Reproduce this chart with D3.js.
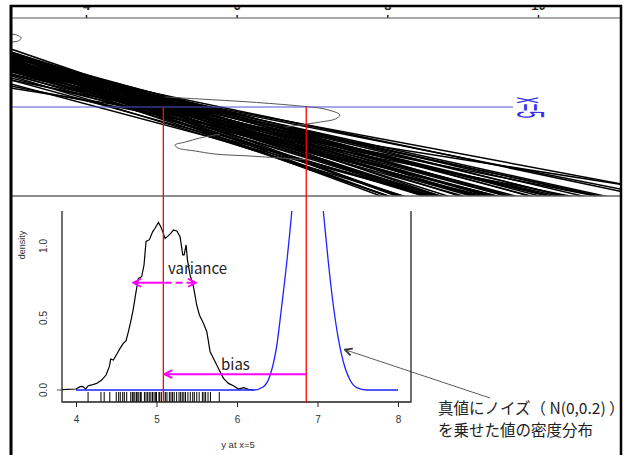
<!DOCTYPE html>
<html>
<head>
<meta charset="utf-8">
<script src="https://cdn.jsdelivr.net/npm/d3@7"></script>
<style>
body {margin: 0; background: #fff;}
svg {display: block;}
</style>
</head>
<body>
<svg width="625" height="455"></svg>
<script>
var width = 625;
var height = 455;

// fitted value of every regression line at x=5 (also drawn as the rug)
var fitAtFive = [4.15, 4.31, 4.35, 4.42, 4.50, 4.53, 4.55, 4.58, 4.60, 4.63, 4.68, 4.70, 4.71, 4.73,
	4.75, 4.76, 4.78, 4.80, 4.81, 4.85, 4.87, 4.89, 4.91, 4.93, 4.95, 4.97, 4.99, 5.00, 5.03, 5.04,
	5.06, 5.09, 5.11, 5.13, 5.16, 5.18, 5.20, 5.22, 5.25, 5.28, 5.30, 5.32, 5.34, 5.36, 5.39, 5.42,
	5.45, 5.47, 5.50, 5.53, 5.57, 5.59, 5.61, 5.64, 5.67, 5.78];
// slope of every fitted line (top panel is drawn turned by 90 degrees)
var fitSlope = [3.75, 3.64, 3.27, 5.08, 3.41, 2.95, 4.01, 3.30, 6.32, 2.85, 3.41, 2.72, 4.02, 3.25,
	2.92, 3.78, 2.73, 3.56, 5.04, 3.23, 2.75, 3.84, 3.12, 3.54, 2.71, 4.48, 3.11, 3.76, 2.93, 3.48,
	4.30, 3.14, 3.78, 2.91, 3.53, 4.20, 3.18, 3.79, 2.92, 3.65, 4.67, 3.42, 4.09, 3.23, 3.82, 4.55,
	3.54, 4.13, 3.83, 4.53, 3.65, 4.23, 5.03, 3.97, 5.32, 4.75];

var topTicks = [4, 6, 8, 10];

// sideways density outlines in the top panel (h = y value, v = x value)
var curveAH = [5.05, 5.51, 6.18, 6.84, 7.17, 7.37, 7.31, 7.11, 6.84, 6.64];
var curveAV = [4.867, 4.894, 4.934, 4.987, 5.027, 5.106, 5.159, 5.199, 5.239, 5.266];
var curveBH = [5.78, 5.51, 5.32, 5.18, 5.22, 5.45, 5.71, 6.18, 6.58, 6.98];
var curveBV = [5.359, 5.412, 5.465, 5.505, 5.544, 5.584, 5.624, 5.651, 5.677, 5.704];
var curveCH = [3.00, 3.08, 3.14, 3.10, 3.00];
var curveCV = [4.031, 4.044, 4.084, 4.124, 4.137];

// bottom panel
var xTicks = [4, 5, 6, 7, 8];
var yTicks = [0, 0.5, 1.0];
var yTickLabels = ["0.0", "0.5", "1.0"];

// estimated density of the fitted values at x=5
var densX = [3.76, 4.00, 4.05, 4.083, 4.12, 4.153, 4.195, 4.257, 4.319, 4.373, 4.414, 4.431, 4.464,
	4.506, 4.547, 4.588, 4.622, 4.651, 4.68, 4.713, 4.746, 4.775, 4.816, 4.845, 4.87, 4.912, 4.953,
	4.982, 5.024, 5.053, 5.077, 5.107, 5.148, 5.177, 5.21, 5.252, 5.293, 5.326, 5.343, 5.368, 5.384,
	5.417, 5.459, 5.5, 5.533, 5.583, 5.625, 5.666, 5.707, 5.77, 5.832, 5.894, 5.956, 6.018, 6.08,
	6.143, 6.205];
var densY = [0, 0.007, 0.023, 0.025, 0.007, 0.03, 0.035, 0.046, 0.069, 0.104, 0.162, 0.215, 0.208,
	0.248, 0.289, 0.324, 0.343, 0.405, 0.475, 0.567, 0.683, 0.775, 0.787, 0.868, 1.032, 1.044, 1.100,
	1.123, 1.164, 1.134, 1.100, 1.053, 1.072, 1.088, 1.111, 1.104, 1.065, 0.938, 0.938, 1.007, 0.903,
	0.799, 0.718, 0.590, 0.521, 0.463, 0.405, 0.266, 0.220, 0.150, 0.081, 0.046, 0.030, 0.007, 0.016,
	0.005, 0];

// true value plus noise N(0,0.2)
var trueX = [4.0, 6.205, 6.329, 6.412, 6.495, 6.557, 6.619, 6.681, 6.76, 6.86, 6.96, 7.072, 7.134,
	7.196, 7.258, 7.32, 7.404, 7.487, 7.61, 8.0];
var trueY = [0, 0, 0.023, 0.104, 0.312, 0.590, 0.891, 1.243, 1.8, 1.99, 1.8, 1.243, 0.891,
	0.590, 0.359, 0.197, 0.069, 0.016, 0, 0];

var meanFit = 5.085;
var trueValue = 6.86;
var varianceFrom = 4.71;
var varianceSplit = 5.10;
var varianceTo = 5.49;
var varianceAt = 0.745;
var biasAt = 0.11;

var svg = d3.select('svg');
var defs = svg.append('defs');

// scales
var hTop = d3.scaleLinear().domain([4, 10]).range([86, 538]);
var vTop = d3.scaleLinear().domain([5, 6]).range([107, 182.33]);
var xB = d3.scaleLinear().domain([4, 8]).range([76, 398]);
var yB = d3.scaleLinear().domain([0, 1]).range([390, 246]);

defs.append('clipPath').attr('id', 'clipTop')
	.append('rect').attr('x', 12).attr('y', 18).attr('width', 608).attr('height', 178);
defs.append('clipPath').attr('id', 'clipLab')
	.append('rect').attr('x', 12).attr('y', 7.2).attr('width', 608).attr('height', 12);
defs.append('clipPath').attr('id', 'clipBot')
	.append('rect').attr('x', 62).attr('y', 211).attr('width', 349).attr('height', 191);

function arrowMarker(id, color, size) {
	defs.append('marker')
		.attr('id', id)
		.attr('viewBox', '0 0 10 10')
		.attr('refX', 9).attr('refY', 5)
		.attr('markerUnits', 'userSpaceOnUse')
		.attr('markerWidth', size).attr('markerHeight', size)
		.attr('orient', 'auto-start-reverse')
		.append('path')
		.attr('d', 'M1,1 L9,5 L1,9')
		.attr('fill', 'none')
		.attr('stroke', color)
		.attr('stroke-width', 10 * 1.8 / size);
}
arrowMarker('mag', '#ff00ff', 10);
arrowMarker('blk', '#333', 9);

// ---------- top panel ----------
var topG = svg.append('g');
var plotTop = topG.append('g').attr('clip-path', 'url(#clipTop)');

// one line per fit
plotTop.selectAll('line.fit')
	.data(fitAtFive)
	.enter()
	.append('line')
	.attr('class', 'fit')
	.attr('x1', function(d, i) {return hTop(d + fitSlope[i] * (3.6 - 5));})
	.attr('y1', vTop(3.6))
	.attr('x2', function(d, i) {return hTop(d + fitSlope[i] * (6.5 - 5));})
	.attr('y2', vTop(6.5))
	.attr('stroke', '#000')
	.attr('stroke-width', 1.5);

var sideLine = d3.line()
	.x(function(d) {return hTop(d[0]);})
	.y(function(d) {return vTop(d[1]);})
	.curve(d3.curveCatmullRom);

[[curveAH, curveAV], [curveBH, curveBV], [curveCH, curveCV]].forEach(function(c) {
	plotTop.append('path')
		.attr('d', sideLine(c[0].map(function(h, i) {return [h, c[1][i]];})))
		.attr('fill', 'none')
		.attr('stroke', '#555')
		.attr('stroke-width', 1);
});

// x=5 line
topG.append('line')
	.attr('x1', 12).attr('x2', 513)
	.attr('y1', vTop(5)).attr('y2', vTop(5))
	.attr('stroke', '#5555cc').attr('stroke-width', 1);
topG.append('text')
	.attr('transform', 'translate(517,97) rotate(90) scale(1,3)')
	.attr('font-family', 'Liberation Sans, Arial, sans-serif')
	.attr('font-size', 13)
	.attr('fill', '#3333ee')
	.text('x=5');

// axis at top (labels mostly cut off by the slide)
var topAxisClip = topG.append('g').attr('clip-path', 'url(#clipLab)');
var topAxis = topAxisClip.append('g')
	.attr('transform', 'translate(0,18)')
	.call(d3.axisTop(hTop).tickValues(topTicks).tickFormat(d3.format('d')).tickSize(3).tickPadding(5));
topAxis.select('.domain').remove();
topAxis.selectAll('line').attr('stroke', '#222').attr('stroke-width', 1.5);
topAxis.selectAll('text')
	.attr('font-family', 'Liberation Sans, Arial, sans-serif')
	.attr('font-size', 13)
	.attr('font-weight', 'bold')
	.attr('fill', '#222');

topG.append('line').attr('x1', 12).attr('x2', 620).attr('y1', 18).attr('y2', 18)
	.attr('stroke', '#555').attr('stroke-width', 1);
topG.append('line').attr('x1', 12).attr('x2', 620).attr('y1', 196).attr('y2', 196)
	.attr('stroke', '#666').attr('stroke-width', 1.5);

// ---------- bottom panel ----------
var botG = svg.append('g');
var plotBot = botG.append('g').attr('clip-path', 'url(#clipBot)');

var densLine = d3.line()
	.x(function(d) {return xB(d[0]);})
	.y(function(d) {return yB(d[1]);});

plotBot.append('path')
	.attr('d', densLine(densX.map(function(x, i) {return [x, densY[i]];})))
	.attr('fill', 'none')
	.attr('stroke', '#000')
	.attr('stroke-width', 1.2);

plotBot.append('path')
	.attr('d', densLine.curve(d3.curveMonotoneX)(trueX.map(function(x, i) {return [x, trueY[i]];})))
	.attr('fill', 'none')
	.attr('stroke', '#2020ff')
	.attr('stroke-width', 1.3);

// rug
plotBot.selectAll('line.rug')
	.data(fitAtFive)
	.enter()
	.append('line')
	.attr('class', 'rug')
	.attr('x1', function(d) {return xB(d);})
	.attr('x2', function(d) {return xB(d);})
	.attr('y1', 392).attr('y2', 402)
	.attr('stroke', '#000')
	.attr('stroke-width', 1);

// frame of the density plot
botG.append('path')
	.attr('d', 'M62,211 V402 H411 V211')
	.attr('fill', 'none')
	.attr('stroke', '#222')
	.attr('stroke-width', 1.3);
botG.append('line').attr('x1', 57).attr('x2', 62).attr('y1', yB(0)).attr('y2', yB(0))
	.attr('stroke', '#555').attr('stroke-width', 1);

var xAxis = botG.append('g')
	.attr('transform', 'translate(0,402)')
	.call(d3.axisBottom(xB).tickValues(xTicks).tickFormat(d3.format('d')).tickSize(5).tickPadding(9));
xAxis.select('.domain').remove();
xAxis.selectAll('line').attr('stroke', '#222');
xAxis.selectAll('text')
	.attr('font-family', 'Liberation Sans, Arial, sans-serif')
	.attr('font-size', 10)
	.attr('fill', '#333');

botG.selectAll('text.ylab')
	.data(yTicks)
	.enter()
	.append('text')
	.attr('class', 'ylab')
	.attr('transform', function(d) {return 'translate(47,' + yB(d) + ') rotate(-90)';})
	.attr('text-anchor', 'middle')
	.attr('font-family', 'Liberation Sans, Arial, sans-serif')
	.attr('font-size', 10)
	.attr('fill', '#333')
	.text(function(d, i) {return yTickLabels[i];});

botG.append('text')
	.attr('transform', 'translate(25,245) rotate(-90)')
	.attr('text-anchor', 'middle')
	.attr('font-family', 'Liberation Sans, Arial, sans-serif')
	.attr('font-size', 9)
	.attr('fill', '#333')
	.text('density');

botG.append('text')
	.attr('x', 238).attr('y', 448)
	.attr('text-anchor', 'middle')
	.attr('font-family', 'Liberation Sans, Arial, sans-serif')
	.attr('font-size', 9.5)
	.attr('fill', '#333')
	.text('y at x=5');

// red guides from the x=5 line down to the axis
svg.selectAll('line.guide')
	.data([meanFit, trueValue])
	.enter()
	.append('line')
	.attr('class', 'guide')
	.attr('x1', function(d) {return xB(d);})
	.attr('x2', function(d) {return xB(d);})
	.attr('y1', vTop(5)).attr('y2', 403)
	.attr('stroke', '#ff0000')
	.attr('stroke-width', 1.3);

// variance arrow: solid half, dashed half
svg.append('line')
	.attr('x1', xB(varianceSplit)).attr('x2', xB(varianceFrom))
	.attr('y1', yB(varianceAt)).attr('y2', yB(varianceAt))
	.attr('stroke', '#ff00ff').attr('stroke-width', 2)
	.attr('marker-end', 'url(#mag)');
svg.append('line')
	.attr('x1', xB(varianceSplit)).attr('x2', xB(varianceTo))
	.attr('y1', yB(varianceAt)).attr('y2', yB(varianceAt))
	.attr('stroke', '#ff00ff').attr('stroke-width', 2)
	.attr('stroke-dasharray', '7,4')
	.attr('marker-end', 'url(#mag)');

// bias arrow
svg.append('line')
	.attr('x1', xB(trueValue)).attr('x2', xB(meanFit) + 1)
	.attr('y1', yB(biasAt)).attr('y2', yB(biasAt))
	.attr('stroke', '#ff00ff').attr('stroke-width', 2)
	.attr('marker-end', 'url(#mag)');

svg.append('text')
	.attr('x', 168).attr('y', 274)
	.attr('font-family', 'Noto Sans CJK JP, Noto Sans, sans-serif')
	.attr('font-size', 15)
	.attr('fill', '#222')
	.text('variance');
svg.append('text')
	.attr('x', 221).attr('y', 370)
	.attr('font-family', 'Noto Sans CJK JP, Noto Sans, sans-serif')
	.attr('font-size', 15)
	.attr('fill', '#222')
	.text('bias');

// note with arrow to the blue density
svg.append('line')
	.attr('x1', 490).attr('y1', 398)
	.attr('x2', xB(7.34)).attr('y2', yB(0.28))
	.attr('stroke', '#333').attr('stroke-width', 0.8)
	.attr('marker-end', 'url(#blk)');

var note = svg.append('text')
	.attr('font-family', 'Noto Sans CJK JP, sans-serif')
	.attr('font-size', 15.5)
	.attr('fill', '#222');
note.append('tspan').attr('x', 438).attr('y', 414).text('真値にノイズ（ N(0,0.2) ）');
note.append('tspan').attr('x', 438).attr('y', 436).text('を乗せた値の密度分布');

// slide frame
svg.append('line').attr('x1', 11).attr('x2', 11).attr('y1', 5).attr('y2', height)
	.attr('stroke', '#000').attr('stroke-width', 3);
svg.append('line').attr('x1', 621).attr('x2', 621).attr('y1', 5).attr('y2', height)
	.attr('stroke', '#000').attr('stroke-width', 2.5);
svg.append('line').attr('x1', 10).attr('x2', 622).attr('y1', 6).attr('y2', 6)
	.attr('stroke', '#000').attr('stroke-width', 2.5);
</script>
</body>
</html>
